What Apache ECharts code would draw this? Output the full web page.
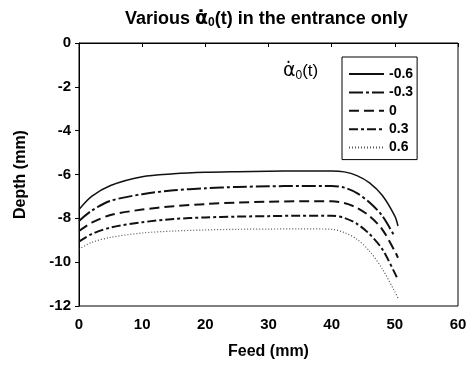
<!DOCTYPE html>
<html>
<head>
    <meta charset="utf-8" />
    <title>Depth vs feed</title>
    <style>
        body { margin: 0; background: #fff; }
        #main { width: 475px; height: 367px; }
    </style>
</head>
<body>
    <div id="main"></div>
    <script src="https://cdn.jsdelivr.net/npm/echarts@6/dist/echarts.min.js"></script>
    <script type="text/javascript">
        // values
        var seriesNames = ['-0.6', '-0.3', '0', '0.3', '0.6'];
        var feed = [0, 2, 5, 10, 15, 20, 25, 30, 35, 40, 42, 44, 46, 48, 50, 50.5];
        var depthM06 = [-7.6, -7.0, -6.5, -6.1, -5.97, -5.9, -5.87, -5.85, -5.84, -5.84, -5.88, -6.05, -6.38, -6.95, -7.9, -8.35];
        var depthM03 = [-8.12, -7.65, -7.2, -6.9, -6.72, -6.63, -6.57, -6.54, -6.52, -6.52, -6.6, -6.85, -7.28, -7.88, -8.85, null];
        var depth0 = [-8.58, -8.2, -7.85, -7.6, -7.45, -7.35, -7.28, -7.24, -7.22, -7.22, -7.3, -7.52, -7.9, -8.5, -9.5, -9.8];
        var depthP03 = [-9.06, -8.72, -8.42, -8.18, -8.03, -7.96, -7.92, -7.9, -7.88, -7.88, -7.98, -8.25, -8.72, -9.4, -10.5, -10.8];
        var depthP06 = [-9.41, -9.1, -8.87, -8.67, -8.58, -8.53, -8.5, -8.49, -8.48, -8.5, -8.65, -8.95, -9.5, -10.3, -11.35, -11.65];

        var dashes = ['solid', [14, 3, 3, 3], [10, 5], [9, 3, 3, 3], [1, 2]];
        var widths = [1.5, 2, 2, 2, 1.2];
        var colors = ['#111', '#111', '#111', '#111', '#555'];
        var allDepth = [depthM06, depthM03, depth0, depthP03, depthP06];

        function pairs(ys) {
            var out = [];
            for (var i = 0; i < feed.length; i++) {
                if (ys[i] !== null) out.push([feed[i], ys[i]]);
            }
            return out;
        }

        var font = 'Liberation Sans, Arial, sans-serif';
        var chart = echarts.init(document.getElementById('main'));

        var option = {
            animation: false,
            textStyle: { fontFamily: font },
            title: {
                text: '{n|Various }{a|α̇}{s|0}{n|(t) in the entrance only}',
                left: 120,
                top: 4,
                textStyle: {
                    rich: {
                        n: { fontSize: 18, fontWeight: 'bold', color: '#000', fontFamily: font },
                        a: { fontSize: 19, fontWeight: 'bold', color: '#000', fontFamily: 'DejaVu Sans' },
                        s: { fontSize: 12, fontWeight: 'bold', color: '#000', fontFamily: font, padding: [8, 0, 0, 0] }
                    }
                }
            },
            grid: {
                left: 79, right: 17, top: 43, bottom: 61,
                show: true, borderColor: '#000', borderWidth: 1
            },
            legend: {
                orient: 'vertical',
                left: 342,
                top: 57,
                itemWidth: 35,
                itemHeight: 14,
                itemGap: 4.4,
                padding: [10, 4, 5, 6],
                borderColor: '#000',
                borderWidth: 1,
                data: seriesNames,
                itemStyle: { opacity: 0 },
                textStyle: { fontSize: 14, fontWeight: 'bold', color: '#000', fontFamily: font }
            },
            graphic: [{
                type: 'text',
                left: 283,
                top: 62,
                style: {
                    text: '{a|α̇}{s|0}{n|(t)}',
                    rich: {
                        a: { fontSize: 19, color: '#000', fontFamily: 'DejaVu Sans' },
                        s: { fontSize: 12, color: '#000', fontFamily: font, padding: [9, 0, 0, 0] },
                        n: { fontSize: 17, color: '#000', fontFamily: font }
                    }
                }
            }],
            xAxis: {
                type: 'value',
                min: 0, max: 60, interval: 10,
                name: 'Feed (mm)',
                nameLocation: 'middle',
                nameGap: 38,
                nameTextStyle: { fontSize: 16, fontWeight: 'bold', color: '#000' },
                axisLine: { lineStyle: { color: '#000' } },
                axisTick: { length: 4, lineStyle: { color: '#000' } },
                axisLabel: { fontSize: 15, fontWeight: 'bold', color: '#000', margin: 11 },
                splitLine: { show: false }
            },
            yAxis: {
                type: 'value',
                min: -12, max: 0, interval: 2,
                name: 'Depth (mm)',
                nameLocation: 'middle',
                nameGap: 50,
                nameTextStyle: { fontSize: 16, fontWeight: 'bold', color: '#000' },
                axisLine: { show: true, lineStyle: { color: '#000' } },
                axisTick: { show: true, length: 4, lineStyle: { color: '#000' } },
                axisLabel: { fontSize: 15, fontWeight: 'bold', color: '#000', margin: 8 },
                splitLine: { show: false }
            },
            series: seriesNames.map(function (name, i) {
                return {
                    name: name,
                    type: 'line',
                    smooth: 0.3,
                    symbol: 'none',
                    data: pairs(allDepth[i]),
                    lineStyle: { color: colors[i], width: widths[i], type: dashes[i] },
                    itemStyle: { color: colors[i] }
                };
            })
        };

        chart.setOption(option);
    </script>
</body>
</html>
